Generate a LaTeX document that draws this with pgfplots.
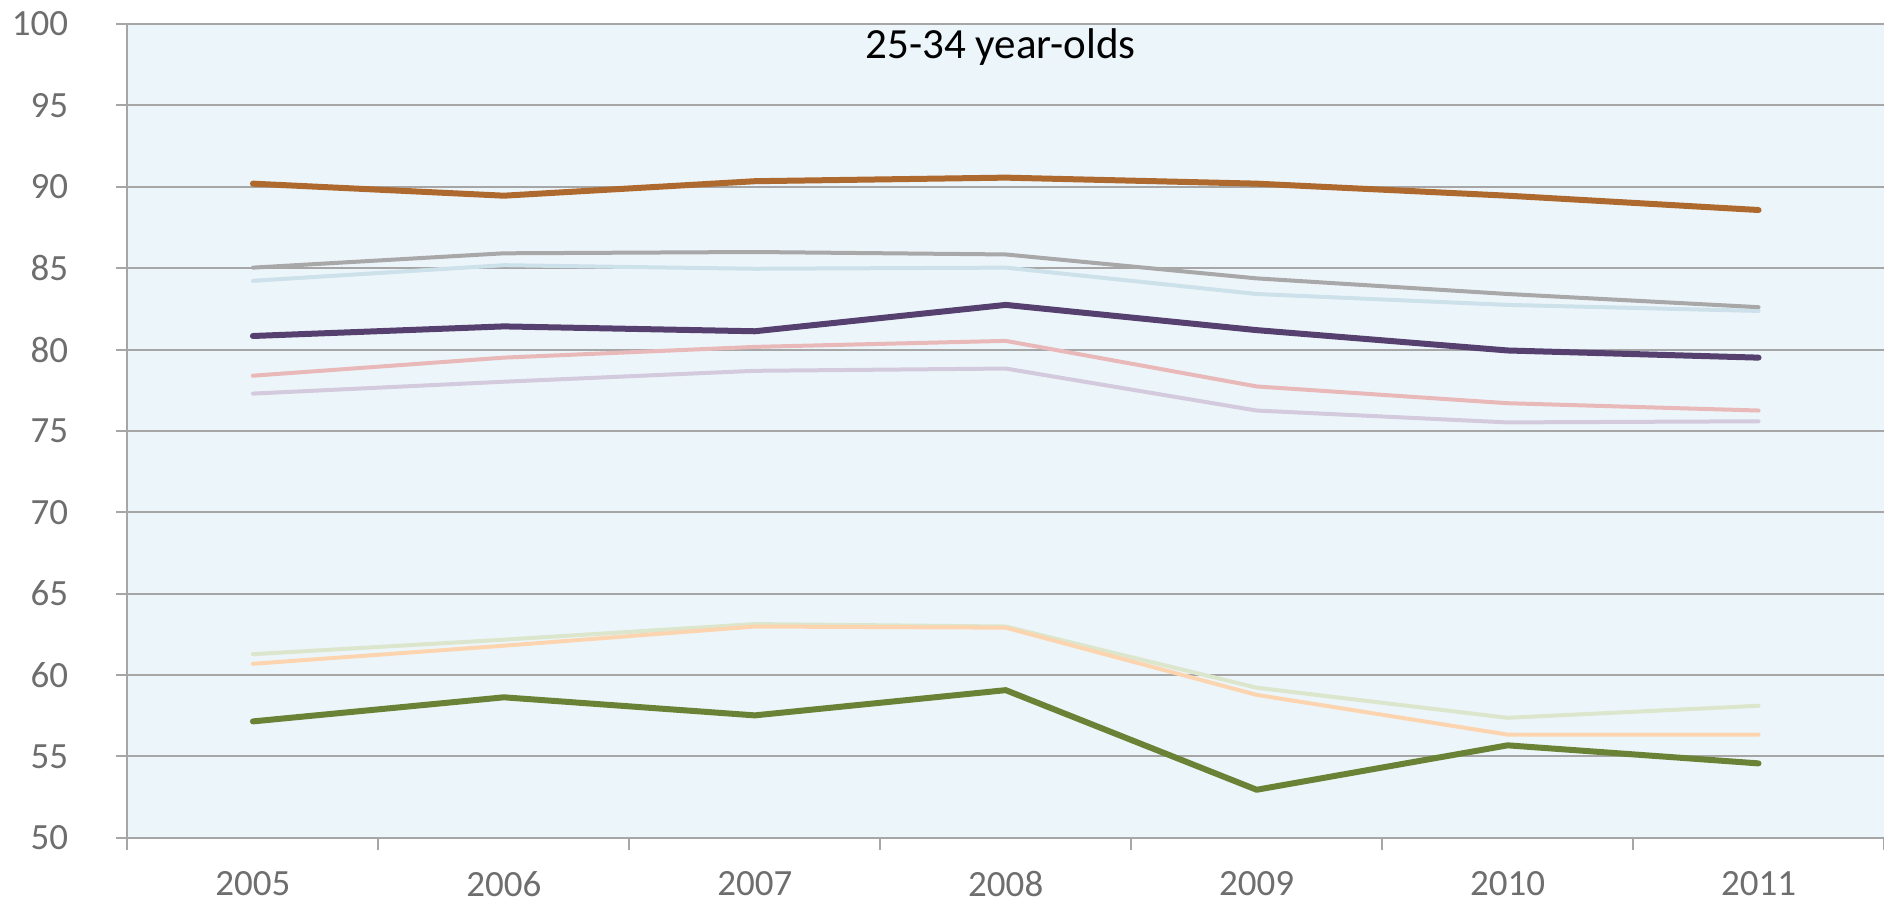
\documentclass[border=0pt]{standalone}
\usepackage{fontspec}
\setmainfont{Carlito}
\usepackage{pgfplots}
\pgfplotsset{compat=1.18}
\definecolor{bgc}{HTML}{ECF5F9}
\definecolor{gridc}{HTML}{A6A6A6}
\definecolor{tickc}{HTML}{6E6E6E}
\definecolor{cbrown}{HTML}{AE6A2E}
\definecolor{cpurple}{HTML}{56406F}
\definecolor{cdgreen}{HTML}{6A8236}
\definecolor{cgray}{HTML}{A8A8A8}
\definecolor{clblue}{HTML}{CDE1EA}
\definecolor{cpink}{HTML}{E9B8B8}
\definecolor{clav}{HTML}{D4CADD}
\definecolor{clgreen}{HTML}{DCE6CC}
\definecolor{cpeach}{HTML}{FDD4B0}
\begin{document}
\begin{tikzpicture}
\begin{axis}[
  at={(0,0)}, anchor=south west,
  scale only axis,
  width=878.5pt, height=407pt,
  xmin=-0.5, xmax=6.5, ymin=50, ymax=100,
  axis x line*=bottom, axis y line*=left,
  axis line style={gridc, line width=1pt},
  axis background/.style={fill=bgc},
  xtick={0,...,6},
  xticklabels={2005,2006,2007,2008,2009,2010,2011},
  minor xtick={-0.5,0.5,...,6.5},
  major x tick style={draw=none},
  minor tick length=6pt,
  tick align=outside,
  ytick={50,55,...,100},
  major tick length=5.5pt,
  tick style={gridc, line width=1pt},
  ymajorgrids,
  grid style={gridc, line width=1pt},
  /pgf/number format/assume math mode=true,
  font=\fontsize{18.5}{20}\selectfont,
  tick label style={tickc},
  yticklabel style={anchor=east, inner sep=0pt, xshift=-24pt},
  xticklabel style={anchor=north, inner sep=0pt, yshift=-11pt},
  every axis plot/.append style={line cap=round, line join=round},
  clip=false,
]
\addplot[clav, line width=2pt] coordinates {(0,77.29)(1,78.02)(2,78.69)(3,78.83)(4,76.25)(5,75.52)(6,75.59)};
\addplot[cpink, line width=2pt] coordinates {(0,78.39)(1,79.50)(2,80.16)(3,80.53)(4,77.73)(5,76.70)(6,76.25)};
\addplot[clblue, line width=2pt] coordinates {(0,84.22)(1,85.18)(2,84.96)(3,85.03)(4,83.41)(5,82.74)(6,82.37)};
\addplot[cgray, line width=2pt] coordinates {(0,85.03)(1,85.91)(2,85.99)(3,85.84)(4,84.37)(5,83.41)(6,82.60)};
\addplot[clgreen, line width=2pt] coordinates {(0,61.28)(1,62.17)(2,63.13)(3,62.98)(4,59.22)(5,57.37)(6,58.11)};
\addplot[cpeach, line width=2pt] coordinates {(0,60.69)(1,61.80)(2,62.98)(3,62.91)(4,58.78)(5,56.34)(6,56.34)};
\addplot[cbrown, line width=3pt] coordinates {(0,90.19)(1,89.45)(2,90.34)(3,90.56)(4,90.19)(5,89.45)(6,88.57)};
\addplot[cpurple, line width=3pt] coordinates {(0,80.83)(1,81.42)(2,81.12)(3,82.74)(4,81.19)(5,79.94)(6,79.50)};
\addplot[cdgreen, line width=3pt] coordinates {(0,57.15)(1,58.63)(2,57.52)(3,59.07)(4,52.95)(5,55.68)(6,54.57)};
\node[font=\fontsize{21.5}{24}\selectfont, text=black] at (axis cs:2.98,98.6) {25-34 year-olds};
\end{axis}
\pgfresetboundingbox
\useasboundingbox (-63.75pt,-33pt) rectangle (878.5pt,419pt);
\end{tikzpicture}
\end{document}
